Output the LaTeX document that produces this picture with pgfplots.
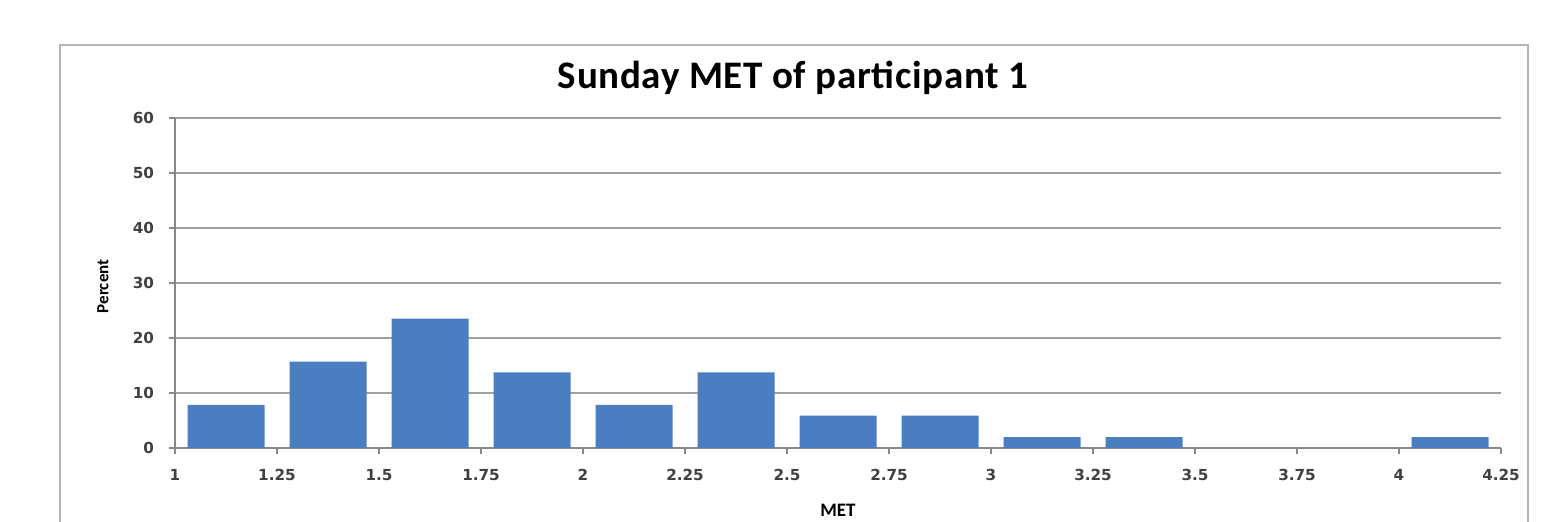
\documentclass[border=0pt]{standalone}
\usepackage{pgfplots}
\pgfplotsset{compat=1.18}
\usepackage{fontspec}
\setmainfont{Carlito}
\newfontfamily\tickfont{DejaVu Sans}
\definecolor{barblue}{HTML}{4A7EC0}
\definecolor{gridgray}{HTML}{A0A0A0}
\definecolor{axisgray}{HTML}{888888}
\definecolor{framegray}{HTML}{B4B4B4}
\definecolor{labgray}{HTML}{404040}
\begin{document}
\begin{tikzpicture}
\path[use as bounding box] (0,0) rectangle (775.5pt,261pt);
\draw[framegray,line width=0.8pt] (30pt,-20pt) rectangle (764pt,238.5pt);
\begin{axis}[
  at={(87.5pt,37pt)}, anchor=south west,
  scale only axis, width=663pt, height=165pt,
  xmin=1, xmax=4.25, ymin=0, ymax=60,
  axis x line*=bottom, axis y line*=left,
  axis line style={axisgray,line width=0.6pt,-},
  xtick={1,1.25,1.5,1.75,2,2.25,2.5,2.75,3,3.25,3.5,3.75,4,4.25},
  xticklabels={1,1.25,1.5,1.75,2,2.25,2.5,2.75,3,3.25,3.5,3.75,4,4.25},
  ytick={0,10,20,30,40,50,60},
  tick align=outside, major tick length=3pt,
  tick style={axisgray,line width=0.6pt},
  ymajorgrids, grid style={gridgray,line width=0.7pt},
  /pgf/number format/assume math mode=true,
  tick label style={font=\tickfont\bfseries\fontsize{7.6}{9}\selectfont, text=labgray},
  yticklabel style={xshift=-4pt},
  xticklabel style={yshift=-4pt},
  title={Sunday MET of participant 1},
  title style={font=\bfseries\fontsize{19.5}{23}\selectfont\addfontfeature{LetterSpace=1.7},
    at={(axis description cs:0.466,1.085)}, anchor=center},
  xlabel={MET},
  xlabel style={font=\bfseries\fontsize{9.5}{11}\selectfont, at={(axis description cs:0.5,-0.188)}, anchor=center},
  ylabel={Percent},
  ylabel style={font=\bfseries\fontsize{8.5}{10}\selectfont, at={(axis description cs:-0.0543,0.49)}, anchor=center, rotate=0},
  clip=false,
]
\addplot[ybar, bar width=38.5pt, fill=barblue, draw=none] coordinates {
  (1.125,7.84) (1.375,15.69) (1.625,23.53) (1.875,13.73)
  (2.125,7.84) (2.375,13.73) (2.625,5.88) (2.875,5.88)
  (3.125,1.96) (3.375,1.96) (4.125,1.96)
};
\end{axis}
\end{tikzpicture}
\end{document}
